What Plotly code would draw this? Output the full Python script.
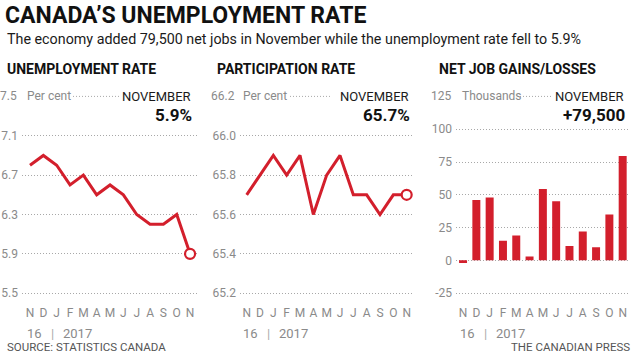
import plotly.graph_objects as go

# ---------------- data ----------------
months = ["N", "D", "J", "F", "M", "A", "M", "J", "J", "A", "S", "O", "N"]
unemployment = [6.8, 6.9, 6.8, 6.6, 6.7, 6.5, 6.6, 6.5, 6.3, 6.2, 6.2, 6.3, 5.9]
participation = [65.7, 65.8, 65.9, 65.8, 65.9, 65.6, 65.8, 65.9, 65.7, 65.7, 65.6, 65.7, 65.7]
net_jobs = [-2, 46, 48, 15, 19, 3, 54.5, 45, 11, 22, 10, 35, 79.5]  # thousands

unemp_ticks = [5.5, 5.9, 6.3, 6.7, 7.1, 7.5]
part_ticks = [65.2, 65.4, 65.6, 65.8, 66.0, 66.2]
jobs_ticks = [-25, 0, 25, 50, 75, 100, 125]

title = "CANADA’S UNEMPLOYMENT RATE"
subtitle = "The economy added 79,500 net jobs in November while the unemployment rate fell to 5.9%"
panel_titles = ["UNEMPLOYMENT RATE", "PARTICIPATION RATE", "NET JOB GAINS/LOSSES"]
unit_labels = ["Per cent", "Per cent", "Thousands"]
latest_label = "NOVEMBER"
year_labels = ["16", "|", "2017"]
source = "SOURCE: STATISTICS CANADA"
credit = "THE CANADIAN PRESS"

# ---------------- styling ----------------
W, H = 635, 357
RED = "#d31f2c"
GRAY = "#8a8a8a"
GRID = "#a8a8a8"
DOTS = "1px,2px"
FONT = "Roboto, 'Noto Sans', sans-serif"

def px(x):
    return x / W

def py(y):
    return 1 - y / H

x_idx = list(range(len(months)))

fig = go.Figure()

panels = [
    dict(left=22, right=197, xr=[-0.6, 12.52]),
    dict(left=240, right=414, xr=[-0.5, 12.55]),
    dict(left=456, right=628, xr=[-0.53, 12.4]),
]
y_top_px, y_bot_px = 94.5, 299.5

series_ticks = [unemp_ticks, part_ticks, jobs_ticks]
pad = [0.03, 0.015, 2.27]

fig.add_trace(go.Scatter(x=x_idx, y=unemployment, mode="lines",
                         line=dict(color=RED, width=3), xaxis="x", yaxis="y",
                         showlegend=False, hoverinfo="skip"))
fig.add_trace(go.Scatter(x=[x_idx[-1]], y=[unemployment[-1]], mode="markers",
                         marker=dict(size=10, color="white", line=dict(color=RED, width=2.2)),
                         xaxis="x", yaxis="y", showlegend=False))
fig.add_trace(go.Scatter(x=x_idx, y=participation, mode="lines",
                         line=dict(color=RED, width=3), xaxis="x2", yaxis="y2",
                         showlegend=False, hoverinfo="skip"))
fig.add_trace(go.Scatter(x=[x_idx[-1]], y=[participation[-1]], mode="markers",
                         marker=dict(size=10, color="white", line=dict(color=RED, width=2.2)),
                         xaxis="x2", yaxis="y2", showlegend=False))
fig.add_trace(go.Bar(x=x_idx, y=net_jobs, width=0.6, marker=dict(color=RED, line=dict(width=0)),
                     xaxis="x3", yaxis="y3", showlegend=False))

layout = dict(
    width=W, height=H,
    margin=dict(l=0, r=0, t=0, b=0),
    paper_bgcolor="white", plot_bgcolor="white",
    font=dict(family=FONT, color=GRAY, size=12),
    annotations=[], shapes=[],
)

for i, p in enumerate(panels):
    suf = "" if i == 0 else str(i + 1)
    ticks = series_ticks[i]
    grid_ticks = ticks[:-1]
    ymin, ymax = ticks[0] - pad[i], ticks[-1] + pad[i]
    if i == 2:
        ticktext = [str(t) for t in grid_ticks]
    else:
        ticktext = [f"{t:.1f}" for t in grid_ticks]
    layout["xaxis" + suf] = dict(
        domain=[px(p["left"]), px(p["right"])], range=p["xr"],
        anchor="y" + suf, tickmode="array", tickvals=x_idx, ticktext=months,
        showgrid=False, zeroline=False, showline=False, ticks="",
        tickfont=dict(size=12, color=GRAY), ticklabelstandoff=8, fixedrange=True,
    )
    layout["yaxis" + suf] = dict(
        domain=[py(y_bot_px), py(y_top_px)], range=[ymin, ymax],
        anchor="x" + suf, tickmode="array", tickvals=grid_ticks, ticktext=ticktext,
        showgrid=True, gridcolor=GRID, griddash=DOTS, gridwidth=1,
        zeroline=False, showline=False, ticks="",
        tickfont=dict(size=12, color=GRAY), ticklabelstandoff=3, fixedrange=True,
    )
    yref = "y" + suf
    xref = "x" + suf
    top_val = ticks[-1]
    top_txt = f"{top_val:.1f}" if i < 2 else str(top_val)
    layout["annotations"].append(dict(
        text=top_txt, xref="paper", yref=yref, x=px(p["left"] - 3), y=top_val,
        xanchor="right", yanchor="middle", showarrow=False,
        font=dict(size=12, color=GRAY)))
    unit_x = [25, 241, 460][i]
    layout["annotations"].append(dict(
        text=unit_labels[i], xref="paper", yref=yref, x=px(unit_x), y=top_val,
        xanchor="left", yanchor="middle", showarrow=False,
        font=dict(size=12, color=GRAY)))
    seg = [(73, 119), (290, 331), (520, 551)][i]
    layout["shapes"].append(dict(
        type="line", xref="paper", yref=yref, x0=px(seg[0]), x1=px(seg[1]),
        y0=top_val, y1=top_val, line=dict(color=GRID, width=1, dash=DOTS)))
    right_px = [193, 411, 626][i]
    layout["annotations"].append(dict(
        text=latest_label, xref="paper", yref="paper", x=px(right_px), y=py(98),
        xanchor="right", yanchor="middle", showarrow=False,
        font=dict(size=13, color="#1a1a1a")))
    if i == 0:
        val_txt = f"{unemployment[-1]:.1f}%"
    elif i == 1:
        val_txt = f"{participation[-1]:.1f}%"
    else:
        val_txt = f"+{int(round(net_jobs[-1] * 1000)):,}"
    layout["annotations"].append(dict(
        text=f"<b>{val_txt}</b>", xref="paper", yref="paper", x=px(right_px + 1), y=py(116),
        xanchor="right", yanchor="middle", showarrow=False,
        font=dict(size=17, color="#111111")))
    title_x = [5, 215, 437][i]
    layout["annotations"].append(dict(
        text=f"<b>{panel_titles[i]}</b>", xref="paper", yref="paper", x=px(title_x), y=py(70),
        xanchor="left", yanchor="middle", showarrow=False,
        font=dict(size=14, color="#111111")))
    for txt, xv, anc in zip(year_labels, [0.3, 1.65, 2.3], ["center", "center", "left"]):
        layout["annotations"].append(dict(
            text=txt, xref=xref, yref="paper", x=xv, y=py(337),
            xanchor=anc, yanchor="middle", showarrow=False,
            font=dict(size=13, color=GRAY if txt != "|" else "#aaaaaa")))

layout["annotations"] += [
    dict(text=f"<b>{title}</b>", xref="paper", yref="paper", x=px(3), y=py(16),
         xanchor="left", yanchor="middle", showarrow=False,
         font=dict(size=23, color="#111111", family=FONT)),
    dict(text=subtitle, xref="paper", yref="paper", x=px(5), y=py(39),
         xanchor="left", yanchor="middle", showarrow=False,
         font=dict(size=14.3, color="#1a1a1a")),
    dict(text=source, xref="paper", yref="paper", x=px(5), y=py(351),
         xanchor="left", yanchor="middle", showarrow=False,
         font=dict(size=11.5, color="#555555")),
    dict(text=credit, xref="paper", yref="paper", x=px(632), y=py(351),
         xanchor="right", yanchor="middle", showarrow=False,
         font=dict(size=11.5, color="#555555")),
]

fig.update_layout(**layout)
fig.write_html("out.html", config={"displayModeBar": False, "staticPlot": True},
               post_script="document.body.style.margin='0px';document.body.style.overflow='hidden';")
